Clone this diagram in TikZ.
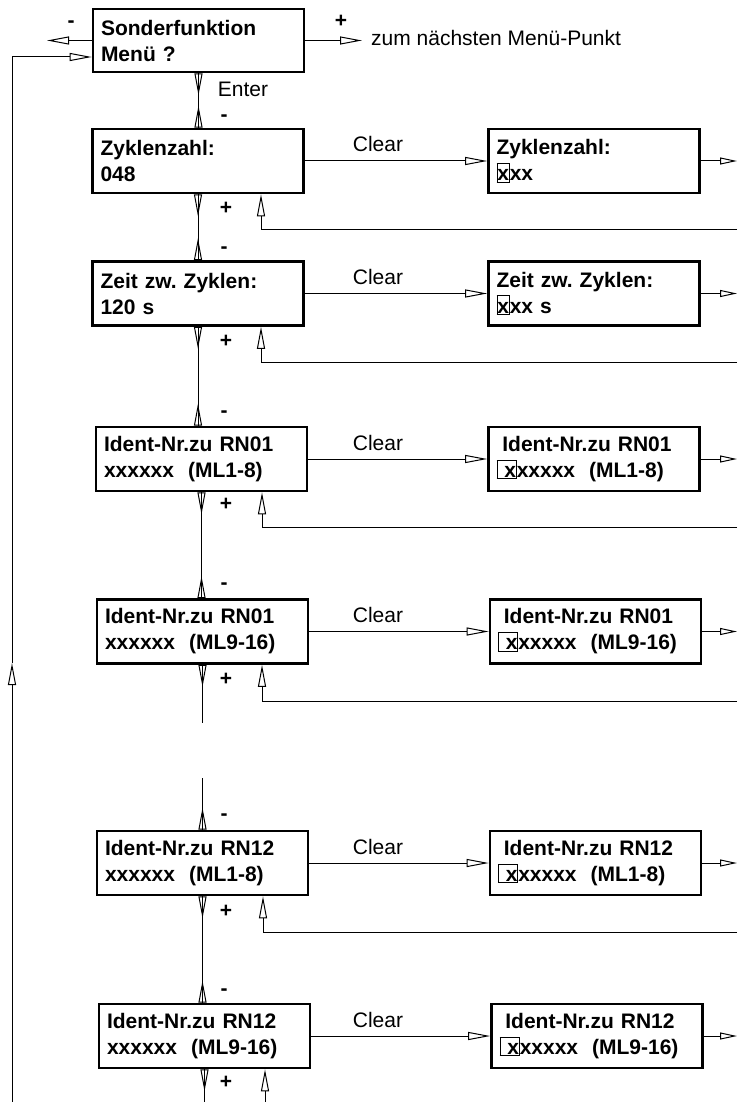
\documentclass[tikz,border=0pt]{standalone}
\usepackage{fontspec}
\setmainfont{Liberation Sans}
\usetikzlibrary{arrows.meta}
\newcommand\curs[1]{{\setlength\fboxsep{0pt}\setlength\fboxrule{0.8pt}\fbox{\rule[-1pt]{0pt}{18pt}#1}}}
\frenchspacing
\begin{document}
\begin{tikzpicture}[x=1pt,y=-1pt,
  ln/.style={line width=1pt},
  tri/.style={-{Triangle[open,length=22pt,width=8pt]}},
  tris/.style={-{Triangle[open,length=17pt,width=7pt]}},
  box/.style={draw,line width=2.6pt,rectangle,minimum height=64pt,inner xsep=8pt,inner ysep=0pt,
    text width=195pt,align=left,font=\bfseries\fontsize{21}{26}\selectfont},
  lbl/.style={inner sep=0pt,font=\fontsize{21}{25}\selectfont},
  sym/.style={inner sep=0pt,font=\bfseries\fontsize{21}{25}\selectfont,anchor=base},
]
\useasboundingbox (0,0) rectangle (737,1102);

% main column
\node[box,minimum height=63pt] (b0) at (198.5,40.5) {Sonderfunktion\\Menü ?};
\node[box] (b1) at (198,161) {Zyklenzahl:\\048};
\node[box] (b2) at (198,293.5) {Zeit zw. Zyklen:\\120 s};
\node[box] (b3) at (201.5,459) {Ident-Nr.zu RN01\\xxxxxx\ \ (ML1-8)};
\node[box] (b4) at (202.5,631.5) {Ident-Nr.zu RN01\\xxxxxx\ \ (ML9-16)};
\node[box] (b5) at (202.5,863) {Ident-Nr.zu RN12\\xxxxxx\ \ (ML1-8)};
\node[box] (b6) at (204.5,1036) {Ident-Nr.zu RN12\\xxxxxx\ \ (ML9-16)};

% edit column
\node[box] (p1) at (594,161) {Zyklenzahl:\\\curs{x}xx};
\node[box] (p2) at (594,293.5) {Zeit zw. Zyklen:\\\curs{x}xx s};
\node[box] (p3) at (594,459) {\hspace*{0.278em}Ident-Nr.zu RN01\\\curs{\ x}xxxxx\ \ (ML1-8)};
\node[box] (p4) at (595.5,631.5) {\hspace*{0.278em}Ident-Nr.zu RN01\\\curs{\ x}xxxxx\ \ (ML9-16)};
\node[box] (p5) at (595.5,863) {\hspace*{0.278em}Ident-Nr.zu RN12\\\curs{\ x}xxxxx\ \ (ML1-8)};
\node[box] (p6) at (597,1036) {\hspace*{0.278em}Ident-Nr.zu RN12\\\curs{\ x}xxxxx\ \ (ML9-16)};

% top menu arrows
\coordinate (tl) at (47,40.5);
\coordinate (tr) at (362,40.5);
\draw[ln,tri] (b0.west) -- (tl);
\draw[ln,tri] (b0.east) -- (tr);
\node[sym] (m0) at (71,28) {-};
\node[sym] (pl0) at (341,28) {+};
\node[lbl,anchor=base west] (next) at (371,46) {zum nächsten Menü-Punkt};
\node[lbl,anchor=base] (enter) at (243,97) {Enter};

% vertical chain
\draw[ln] (b0.south) -- (b0.south |- b1.north);
\draw[ln,tri] (b0.south) -- ++(0,22);
\draw[ln,tri] (b0.south |- b1.north) -- ++(0,-22);

\draw[ln] (b1.south) -- (b1.south |- b2.north);
\draw[ln,tri] (b1.south) -- ++(0,22);
\draw[ln,tri] (b1.south |- b2.north) -- ++(0,-22);

\draw[ln] (b2.south) -- (b2.south |- b3.north);
\draw[ln,tri] (b2.south) -- ++(0,22);
\draw[ln,tri] (b2.south |- b3.north) -- ++(0,-22);

\draw[ln] (b3.south) -- (b3.south |- b4.north);
\draw[ln,tri] (b3.south) -- ++(0,22);
\draw[ln,tri] (b3.south |- b4.north) -- ++(0,-22);

\coordinate (e4) at (202.5,723);
\draw[ln] (b4.south) -- (e4);
\draw[ln,tri] (b4.south) -- ++(0,22);

\coordinate (s5) at (202.5,778);
\draw[ln] (s5) -- (b5.north);
\draw[ln,tri] (b5.north) -- ++(0,-22);

\draw[ln] (b5.south) -- (b5.south |- b6.north);
\draw[ln,tri] (b5.south) -- ++(0,22);
\draw[ln,tri] (b5.south |- b6.north) -- ++(0,-22);

\coordinate (e6) at (204.5,1102);
\draw[ln] (b6.south) -- (e6);
\draw[ln,tri] (b6.south) -- ++(0,22);

% - and + labels
\node[sym] (m1) at (224,121.6) {-};
\node[sym] (m2) at (224,253.6) {-};
\node[sym] (m3) at (224,417.6) {-};
\node[sym] (m4) at (224,589.6) {-};
\node[sym] (m5) at (224,820.6) {-};
\node[sym] (m6) at (224,995.6) {-};
\node[sym] (q1) at (226,214) {+};
\node[sym] (q2) at (226,347) {+};
\node[sym] (q3) at (226,510) {+};
\node[sym] (q4) at (226,685) {+};
\node[sym] (q5) at (226,917) {+};
\node[sym] (q6) at (226,1088) {+};

% Clear arrows and right exits
\foreach \i/\yy in {1/161,2/293.5,3/459,4/631.5,5/863,6/1036}{
  \draw[ln,tri] (b\i.east) -- (p\i.west);
  \node[lbl,anchor=base] (c\i) at (378,\yy-9) {Clear};
  \coordinate (r\i) at (737,\yy);
  \draw[ln,tris] (p\i.east) -- (r\i);
}

% feedback loops from the right
\foreach \i/\xx/\yy in {1/261/229,2/261/362,3/262/527,4/262/701,5/263/932}{
  \coordinate (fa\i) at (737,\yy);
  \coordinate (fb\i) at (\xx,\yy);
  \draw[ln,tri] (fa\i) -- (fb\i) -- (fb\i |- b\i.south);
}
\coordinate (fa6) at (265,1102);
\draw[ln,tri] (fa6) -- (fa6 |- b6.south);

% left return loop
\coordinate (lb) at (12,1102);
\coordinate (lm) at (12,663);
\coordinate (lt) at (12,57);
\draw[ln,tri] (lb) -- (lm);
\draw[ln,tri] (lm) -- (lt) -- (lt -| b0.west);
\end{tikzpicture}
\end{document}
